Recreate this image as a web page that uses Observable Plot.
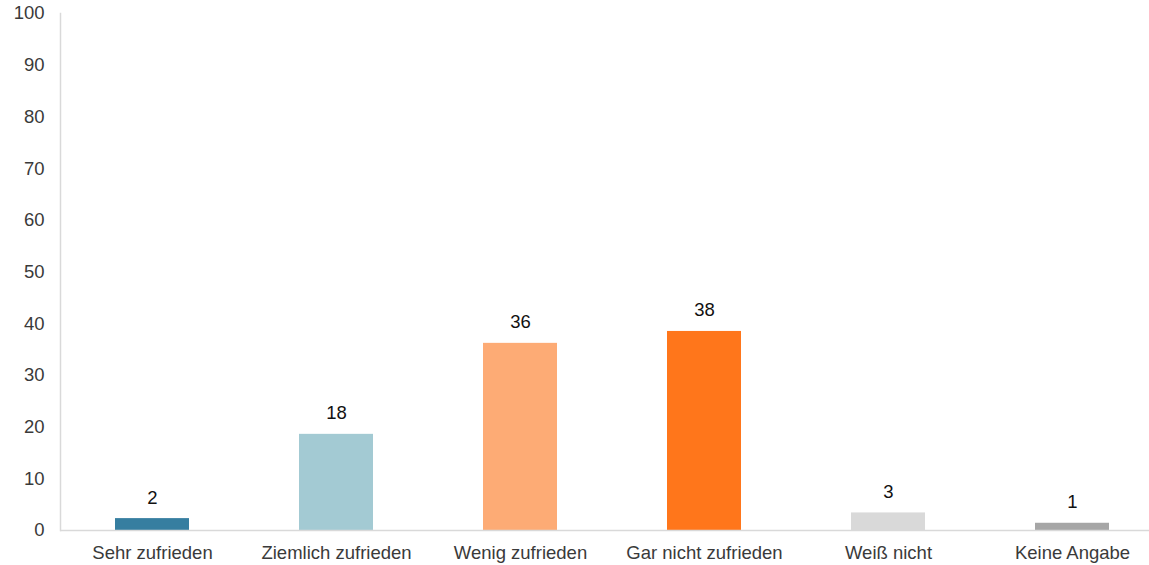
<!DOCTYPE html>
<html>
<head>
<meta charset="utf-8">
<script src="https://cdn.jsdelivr.net/npm/d3@7"></script>
<script src="https://cdn.jsdelivr.net/npm/@observablehq/plot@0.6"></script>
<style>
  html, body { margin: 0; padding: 0; background: #fff; overflow: hidden; }
  #chart svg { display: block; }
</style>
</head>
<body>
<div id="chart"></div>
<script>
const categories = ["Sehr zufrieden", "Ziemlich zufrieden", "Wenig zufrieden", "Gar nicht zufrieden", "Weiß nicht", "Keine Angabe"];
const values = [2.3, 18.6, 36.2, 38.5, 3.4, 1.4];
const valueLabels = ["2", "18", "36", "38", "3", "1"];
const colors = ["#367EA0", "#A3CAD3", "#FDAB75", "#FF761B", "#D9D9D9", "#A6A6A6"];
const yTicks = [0, 10, 20, 30, 40, 50, 60, 70, 80, 90, 100];

const data = categories.map((c, i) => ({category: c, value: values[i], label: valueLabels[i], color: colors[i]}));

const FS = 18.5;
const chart = Plot.plot({
  width: 1149,
  height: 565,
  marginTop: 13,
  marginBottom: 35,
  marginLeft: 60,
  marginRight: 0,
  style: {fontFamily: "'Liberation Sans', Arial, sans-serif", fontSize: FS + "px", color: "#3a3a3a", overflow: "hidden"},
  x: {domain: categories, range: [60, 1164], paddingInner: 0.6, paddingOuter: 0.3, label: null},
  y: {domain: [0, 100], label: null},
  marks: [
    Plot.axisY({ticks: yTicks, tickSize: 0, tickPadding: 16, fontSize: FS, fill: "#3a3a3a", label: null}),
    Plot.axisX({tickSize: 0, tickPadding: 15, fontSize: FS, fill: "#3a3a3a", label: null}),
    Plot.barY(data, {x: "category", y: "value", fill: "color"}),
    Plot.frame({anchor: "left", stroke: "#D9D9D9", strokeWidth: 1.5}),
    Plot.ruleY([0], {stroke: "#D9D9D9", strokeWidth: 1.5}),
    Plot.text(data, {x: "category", y: "value", text: "label", dy: -21, fontSize: FS, fill: "#111"})
  ]
});
document.getElementById("chart").appendChild(chart);
</script>
</body>
</html>
